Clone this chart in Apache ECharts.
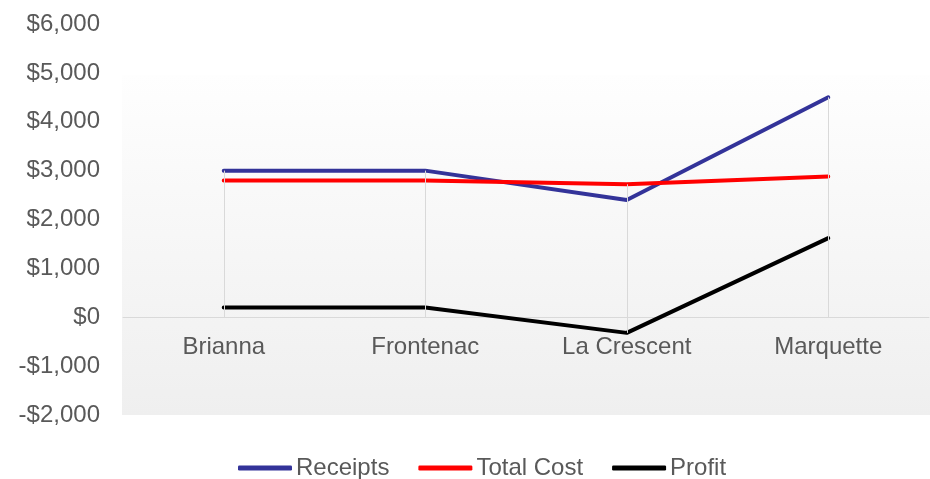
<!DOCTYPE html>
<html>
<head>
    <meta charset="utf-8" />
    <title>Receipts vs Cost</title>
    <script src="https://cdn.jsdelivr.net/npm/echarts@6/dist/echarts.min.js"></script>
    <style>
        html, body { margin: 0; padding: 0; background: #fff; }
        #content { width: 930px; height: 479px; }
    </style>
</head>
<body>
    <div id="content"></div>
    <script type="text/javascript">
        var categories = ["Brianna", "Frontenac", "La Crescent", "Marquette"];
        var receipts = [3000, 3000, 2400, 4500];
        var totalCost = [2800, 2800, 2720, 2880];
        var profit = [200, 200, -320, 1620];

        var textColor = "#595959";
        var fontName = "Liberation Sans, Arial, sans-serif";
        var yMin = -2000, yMax = 6000;
        var gridTop = 24, gridBottom = 64, chartH = 479;

        // drop lines: one per category, from lowest to highest value (or the axis)
        var drops = [];
        for (var i = 0; i < categories.length; i++) {
            var hi = Math.max(receipts[i], totalCost[i], profit[i], 0);
            var lo = Math.min(receipts[i], totalCost[i], profit[i], 0);
            drops.push([{ coord: [i, lo] }, { coord: [i, hi] }]);
        }

        function money(v) {
            var s = "$" + Math.abs(v).toLocaleString("en-US");
            return v < 0 ? "-" + s : s;
        }

        // move the category axis (line + labels) up to the zero value
        var plotH = chartH - gridTop - gridBottom;
        var zeroOffset = -plotH * (0 - yMin) / (yMax - yMin);

        var myChart = echarts.init(document.getElementById("content"));
        myChart.setOption({
            animation: false,
            textStyle: { fontFamily: fontName },
            graphic: [{
                type: "rect",
                z: -10,
                shape: { x: 122, y: 75, width: 808, height: 340 },
                style: {
                    fill: new echarts.graphic.LinearGradient(0, 0, 0, 1, [
                        { offset: 0, color: "#fefefe" },
                        { offset: 1, color: "#efefef" }
                    ])
                },
                silent: true
            }],
            grid: { left: 123, right: 1, top: gridTop, bottom: gridBottom },
            legend: {
                data: ["Receipts", "Total Cost", "Profit"],
                left: 233,
                top: 451,
                icon: "roundRect",
                itemWidth: 54,
                itemHeight: 5,
                itemGap: 29,
                textStyle: { color: textColor, fontSize: 24, fontFamily: fontName, padding: [0, 0, 0, -1] }
            },
            xAxis: {
                type: "category",
                data: categories,
                boundaryGap: true,
                offset: zeroOffset,
                axisLine: { onZero: false, lineStyle: { color: "#d9d9d9", width: 1 } },
                axisTick: { show: false },
                axisLabel: { color: textColor, fontSize: 24, margin: 18, fontFamily: fontName },
                splitLine: { show: false }
            },
            yAxis: {
                type: "value",
                min: yMin,
                max: yMax,
                interval: 1000,
                axisLine: { show: false },
                axisTick: { show: false },
                splitLine: { show: false },
                axisLabel: {
                    color: textColor, fontSize: 24, margin: 23, fontFamily: fontName,
                    formatter: money
                }
            },
            series: [
                {
                    name: "drops",
                    type: "line",
                    data: [],
                    z: 1,
                    silent: true,
                    markLine: {
                        silent: true,
                        symbol: "none",
                        label: { show: false },
                        lineStyle: { color: "#d9d9d9", width: 1, type: "solid" },
                        data: drops
                    }
                },
                {
                    name: "Receipts",
                    type: "line",
                    data: receipts,
                    symbol: "none",
                    z: 3,
                    itemStyle: { color: "#333399" },
                    lineStyle: { color: "#333399", width: 4, cap: "round" }
                },
                {
                    name: "Total Cost",
                    type: "line",
                    data: totalCost,
                    symbol: "none",
                    z: 4,
                    itemStyle: { color: "#ff0000" },
                    lineStyle: { color: "#ff0000", width: 4, cap: "round" }
                },
                {
                    name: "Profit",
                    type: "line",
                    data: profit,
                    symbol: "none",
                    z: 3,
                    itemStyle: { color: "#000000" },
                    lineStyle: { color: "#000000", width: 4, cap: "round" }
                }
            ]
        });
    </script>
</body>
</html>
